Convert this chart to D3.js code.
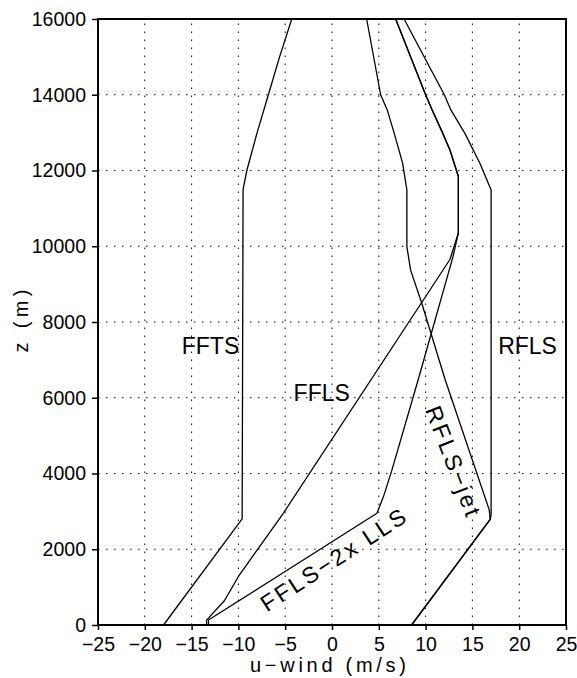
<!DOCTYPE html>
<meta charset="utf-8">
<style>
body { margin: 0; background: #fff; }
text { font-family: "Liberation Sans", Arial, sans-serif; fill: #000; }
.grid line { stroke: #000; stroke-width: 1; stroke-dasharray: 1.5 6.5; }
.profile { fill: none; stroke: #000; stroke-width: 1.3; stroke-linejoin: round; }
</style>
<svg width="577" height="678"></svg>
<script src="https://d3js.org/d3.v7.min.js"></script>
<script>

// profiles of u-wind (m/s) against height z (m)
var fftsZ = [0, 2800, 11500, 12000, 13000, 14000, 15000, 16000];
var fftsU = [-18.0, -9.6, -9.5, -9.1, -8.0, -6.8, -5.6, -4.3];

var fflsZ = [0, 130, 640, 1320, 2950, 9650, 10350, 11840, 12540, 13000, 13600, 14000, 16000];
var fflsU = [-13.4, -13.4, -11.5, -9.9, -5.2, 12.6, 13.5, 13.5, 12.6, 11.8, 10.7, 10.0, 6.8];

var ffls2Z = [0, 130, 2950, 3390, 4090, 6470, 9700, 10350, 11840, 12540, 13000, 13600, 14000, 16000];
var ffls2U = [-13.2, -13.2, 4.8, 5.5, 6.4, 9.2, 12.9, 13.5, 13.5, 12.6, 11.8, 10.7, 10.0, 6.8];

var rflsZ = [0, 2790, 2900, 11485, 12190, 12980, 13600, 14000, 16000];
var rflsU = [8.5, 16.9, 17.0, 17.0, 15.8, 14.2, 12.7, 12.0, 7.7];

var jetZ = [0, 2790, 3040, 6470, 8490, 9370, 9990, 11485, 12190, 12980, 13600, 14000, 16000];
var jetU = [8.5, 16.9, 16.8, 12.1, 9.6, 8.4, 8.0, 8.0, 7.55, 6.65, 5.9, 5.2, 3.7];

var xTicks = [-25, -20, -15, -10, -5, 0, 5, 10, 15, 20, 25];
var yTicks = [0, 2000, 4000, 6000, 8000, 10000, 12000, 14000, 16000];

var svg = d3.select("svg");
var pLeft = 98, pRight = 566, pTop = 19, pBottom = 625;

var x = d3.scaleLinear().domain([-25, 25]).range([pLeft, pRight]);
var y = d3.scaleLinear().domain([0, 16000]).range([pBottom, pTop]);

// dotted grid
var grid = svg.append("g").attr("class", "grid");
grid.selectAll(".gx")
  .data(xTicks.slice(1, -1))
  .enter().append("line")
    .attr("x1", d => x(d)).attr("x2", d => x(d))
    .attr("y1", pBottom).attr("y2", pTop);
grid.selectAll(".gy")
  .data(yTicks.slice(1, -1))
  .enter().append("line")
    .attr("x1", pLeft).attr("x2", pRight)
    .attr("y1", d => y(d)).attr("y2", d => y(d));

// profiles
var line = d3.line().x(d => x(d[0])).y(d => y(d[1]));
var profiles = [[fftsU, fftsZ], [fflsU, fflsZ], [ffls2U, ffls2Z], [rflsU, rflsZ], [jetU, jetZ]];
svg.append("g")
  .selectAll("path")
  .data(profiles)
  .enter().append("path")
    .attr("class", "profile")
    .attr("d", p => line(d3.zip(p[0], p[1])));

// axes
var fmt = d => d < 0 ? "\u2212" + Math.abs(d) : String(d);
var xAxis = svg.append("g")
    .attr("transform", "translate(0," + pBottom + ")")
    .call(d3.axisBottom(x).tickValues(xTicks).tickFormat(fmt).tickSize(5).tickPadding(7));
var yAxis = svg.append("g")
    .attr("transform", "translate(" + pLeft + ",0)")
    .call(d3.axisLeft(y).tickValues(yTicks).tickFormat(fmt).tickSize(6).tickPadding(6));
[xAxis, yAxis].forEach(a => {
  a.select(".domain").remove();
  a.selectAll("line").attr("stroke", "#000").attr("stroke-width", 1.5);
  a.selectAll("text").attr("font-size", 19.5).attr("font-family", "Liberation Sans, Arial, sans-serif").attr("fill", "#000");
});

// frame
svg.append("rect")
    .attr("x", pLeft).attr("y", pTop)
    .attr("width", pRight - pLeft).attr("height", pBottom - pTop)
    .attr("fill", "none").attr("stroke", "#000").attr("stroke-width", 2);

// axis titles
svg.append("text")
    .attr("x", (pLeft + pRight) / 2 - 4).attr("y", 672)
    .attr("text-anchor", "middle").attr("font-size", 20)
    .attr("textLength", 156).attr("lengthAdjust", "spacing")
    .text("u\u2212wind (m/s)");
svg.append("text")
    .attr("transform", "translate(28,321) rotate(-90)")
    .attr("text-anchor", "middle").attr("font-size", 20)
    .attr("textLength", 63).attr("lengthAdjust", "spacing")
    .text("z (m)");

// curve labels
var labels = [
  {t: "FFTS", u: -16.05, z: 7155},
  {t: "FFLS", u: -4.1, z: 5914},
  {t: "RFLS", u: 17.75, z: 7155}
];
svg.selectAll(".lab")
  .data(labels)
  .enter().append("text")
    .attr("x", d => x(d.u)).attr("y", d => y(d.z))
    .attr("font-size", 23)
    .text(d => d.t);

svg.append("text")
    .attr("transform", "translate(453,461) rotate(69)")
    .attr("text-anchor", "middle").attr("dominant-baseline", "central")
    .attr("font-size", 23).attr("textLength", 116).attr("lengthAdjust", "spacing")
    .text("RFLS\u2212jet");
svg.append("text")
    .attr("transform", "translate(333,560) rotate(-33)")
    .attr("text-anchor", "middle").attr("dominant-baseline", "central")
    .attr("font-size", 23).attr("textLength", 168).attr("lengthAdjust", "spacing")
    .text("FFLS\u22122x LLS");

</script>
